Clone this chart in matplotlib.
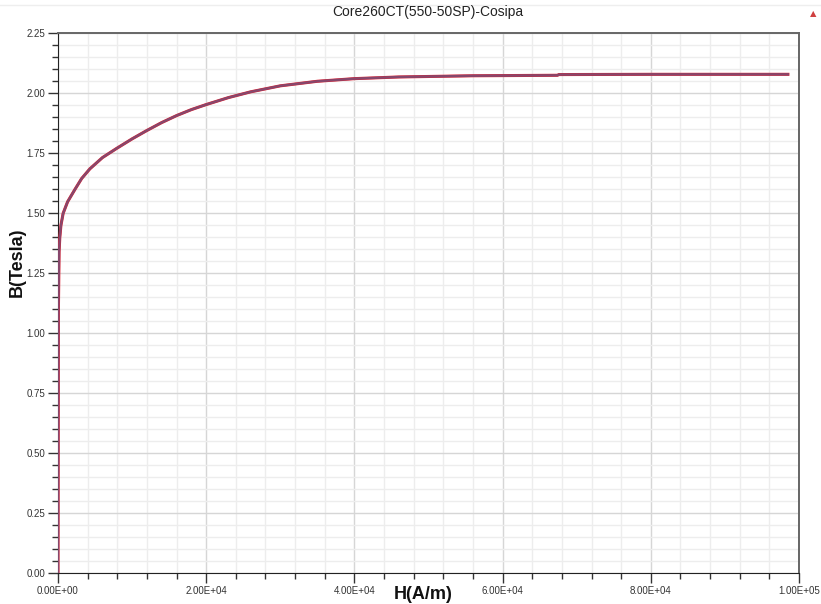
import numpy as np
import matplotlib.pyplot as plt
from matplotlib.ticker import MultipleLocator, FuncFormatter

plt.rc("font", family=["Liberation Sans", "DejaVu Sans"])

# magnetisation curve of the core material
H = [0, 60, 150, 250, 400, 700, 1300, 2300, 3200, 4300, 6000, 7900, 10000,
     12000, 14000, 16000, 18000, 20000, 23000, 26000, 30000, 35000, 40000,
     46000, 56000, 67400, 67600, 80000, 98500]
B = [0.00, 1.10, 1.34, 1.40, 1.45, 1.50, 1.548, 1.600, 1.645, 1.685, 1.732,
     1.770, 1.810, 1.845, 1.878, 1.907, 1.932, 1.953, 1.982, 2.006, 2.031,
     2.050, 2.061, 2.068, 2.073, 2.075, 2.078, 2.079, 2.079]

title = "Core260CT(550-50SP)-Cosipa"

fig = plt.figure(figsize=(8.21, 6.04), dpi=100)
ax = fig.add_axes([0.0706, 0.0508, 0.9026, 0.8941])

ax.plot(H, B, color="#e02030", lw=2.2, zorder=3)
ax.plot(H, B, color="#87476c", lw=1.7, zorder=4)

ax.set_xlim(0, 1e5)
ax.set_ylim(0, 2.25)
ax.xaxis.set_major_locator(MultipleLocator(20000))
ax.xaxis.set_minor_locator(MultipleLocator(4000))
ax.yaxis.set_major_locator(MultipleLocator(0.25))
ax.yaxis.set_minor_locator(MultipleLocator(0.05))
ax.xaxis.set_major_formatter(FuncFormatter(lambda v, p: f"{v:.2E}"))
ax.yaxis.set_major_formatter(FuncFormatter(lambda v, p: f"{v:.2f}"))

ax.grid(True, which="minor", color="#ededed", lw=1.0, zorder=0)
ax.grid(True, which="major", color="#d6d6d6", lw=1.0, zorder=1)
ax.set_axisbelow(True)

ax.tick_params(which="major", length=7, width=1, color="#333333",
               labelsize=7, labelcolor="#333333", pad=2)
ax.tick_params(which="minor", length=4, width=1, color="#333333")
for s in ["left", "bottom"]:
    ax.spines[s].set_color("#222222")
for s in ["top", "right"]:
    ax.spines[s].set_color("#666666")
    ax.spines[s].set_linewidth(1.4)

fig.text(0.5215, 0.980, title, ha="center", va="center", fontsize=10, color="#222222")
fig.text(0.515, 0.016, "H(A/m)", ha="center", va="center", fontsize=13,
         fontweight="bold", color="#111111")
fig.text(0.021, 0.565, "B(Tesla)", ha="center", va="center", rotation=90,
         fontsize=13, fontweight="bold", color="#111111")

# small warning marker in the corner
fig.text(0.990, 0.978, "▲", ha="center", va="center", fontsize=6,
         color="#d04040", family="DejaVu Sans")
fig.add_artist(plt.Line2D([0, 1], [0.991, 0.991], color="#eeeeee", lw=1))

fig.savefig("out.png", dpi=100)
